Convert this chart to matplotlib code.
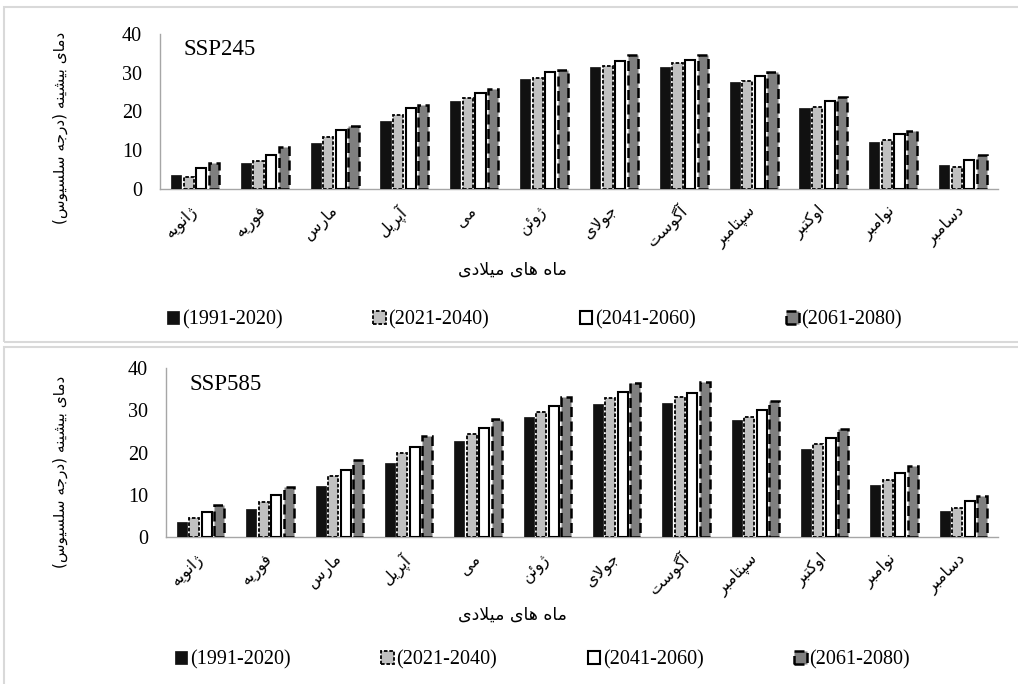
"""
Monthly maximum temperature, baseline vs. three future periods, for SSP245 and SSP585.
"""
import matplotlib
matplotlib.use("Agg")
from matplotlib import pyplot as plt
from matplotlib.patches import Rectangle
import numpy as np

months = ["ژانویه", "فوریه", "مارس", "آپریل", "می", "ژوئن",
          "جولای", "آگوست", "سپتامبر", "اوکتبر", "نوامبر", "دسامبر"]
periods = ["(1991-2020)", "(2021-2040)", "(2041-2060)", "(2061-2080)"]

baseline = [3.6, 6.6, 12.0, 17.6, 22.8, 28.5, 31.5, 31.6, 27.6, 20.8, 12.2, 6.1]

ssp245_2021 = [3.2, 7.1, 13.4, 19.1, 23.4, 28.7, 31.8, 32.4, 27.9, 21.1, 12.6, 5.7]
ssp245_2041 = [5.4, 8.9, 15.3, 20.8, 24.7, 30.2, 33.0, 33.3, 29.2, 22.6, 14.1, 7.5]
ssp245_2061 = [6.6, 10.9, 16.3, 21.6, 25.8, 30.6, 34.5, 34.7, 30.3, 23.7, 15.0, 8.8]

ssp585_2021 = [4.6, 8.4, 14.4, 20.0, 24.4, 29.7, 33.0, 33.1, 28.5, 22.1, 13.6, 6.9]
ssp585_2041 = [5.9, 9.9, 15.8, 21.3, 25.7, 31.0, 34.3, 34.2, 30.0, 23.5, 15.1, 8.6]
ssp585_2061 = [7.6, 11.8, 18.3, 24.0, 28.0, 33.1, 36.4, 36.8, 32.3, 25.5, 16.7, 9.8]

y_label = "دمای بیشینه (درجه سلسیوس)"
x_label = "ماه های میلادی"

# (isolated, final, initial, medial) presentation forms; right-joining letters have no initial/medial
FORMS = {
    "ا": ("\uFE8D", "\uFE8E", None, None),
    "آ": ("\uFE81", "\uFE82", None, None),
    "د": ("\uFEA9", "\uFEAA", None, None),
    "ر": ("\uFEAD", "\uFEAE", None, None),
    "ژ": ("\uFB8A", "\uFB8B", None, None),
    "و": ("\uFEED", "\uFEEE", None, None),
    "ب": ("\uFE8F", "\uFE90", "\uFE91", "\uFE92"),
    "پ": ("\uFB56", "\uFB57", "\uFB58", "\uFB59"),
    "ت": ("\uFE95", "\uFE96", "\uFE97", "\uFE98"),
    "ج": ("\uFE9D", "\uFE9E", "\uFE9F", "\uFEA0"),
    "س": ("\uFEB1", "\uFEB2", "\uFEB3", "\uFEB4"),
    "ش": ("\uFEB5", "\uFEB6", "\uFEB7", "\uFEB8"),
    "ف": ("\uFED1", "\uFED2", "\uFED3", "\uFED4"),
    "ک": ("\uFB8E", "\uFB8F", "\uFB90", "\uFB91"),
    "گ": ("\uFB92", "\uFB93", "\uFB94", "\uFB95"),
    "ل": ("\uFEDD", "\uFEDE", "\uFEDF", "\uFEE0"),
    "م": ("\uFEE1", "\uFEE2", "\uFEE3", "\uFEE4"),
    "ن": ("\uFEE5", "\uFEE6", "\uFEE7", "\uFEE8"),
    "ه": ("\uFEE9", "\uFEEA", "\uFEEB", "\uFEEC"),
    "ی": ("\uFBFC", "\uFBFD", "\uFBFE", "\uFBFF"),
    "ئ": ("\uFE89", "\uFE8A", "\uFE8B", "\uFE8C"),
}
LAM_ALEF = {"ا": ("\uFEFB", "\uFEFC"), "آ": ("\uFEF5", "\uFEF6")}
MIRROR = {"(": ")", ")": "("}


def dual(c: str) -> bool:
    return c in FORMS and FORMS[c][2] is not None


def farsi(text: str) -> str:
    """
    Joins persian letters into their contextual forms and flips the string to visual order,
    since matplotlib lays out text left to right without shaping.
    """
    out = []
    i = 0
    while i < len(text):
        c = text[i]
        prev = text[i - 1] if i > 0 else ""
        nxt = text[i + 1] if i + 1 < len(text) else ""
        joined_before = dual(prev)
        if c == "ل" and nxt in LAM_ALEF:
            out.append(LAM_ALEF[nxt][1 if joined_before else 0])
            i += 2
            continue
        if c not in FORMS:
            out.append(c)
            i += 1
            continue
        joined_after = dual(c) and nxt in FORMS
        iso, fin, ini, med = FORMS[c]
        if joined_before and joined_after:
            out.append(med)
        elif joined_before:
            out.append(fin)
        elif joined_after:
            out.append(ini)
        else:
            out.append(iso)
        i += 1
    return "".join(MIRROR.get(ch, ch) for ch in reversed(out))


W, H = 1018, 684
SERIF = "Liberation Serif"
FA = "DejaVu Sans"

bar_styles = [
    dict(facecolor="#111111", edgecolor="#111111", linewidth=0.5),
    dict(facecolor="#c0c0c0", edgecolor="black", linewidth=1.3, linestyle=(0, (2.0, 1.0))),
    dict(facecolor="white", edgecolor="black", linewidth=1.5),
    dict(facecolor="#7f7f7f", edgecolor="black", linewidth=1.8, linestyle=(0, (4.0, 1.8))),
]


def px_axes(fig, left, top, right, bottom):
    return fig.add_axes([left / W, 1 - bottom / H, (right - left) / W, (bottom - top) / H])


def plot_panel(fig, rect, series, title, ylab_y, xlab_y, legend_y, legend_x0):
    """
    Draws one scenario panel: grouped bars per month, axis labels and a one-row legend.
    """
    ax = px_axes(fig, *rect)
    x = np.arange(len(months))
    step, width = 0.18, 0.145
    for k, (vals, style) in enumerate(zip(series, bar_styles)):
        ax.bar(x + (k - 1.5) * step, vals, width, **style, zorder=3)

    ax.set_xlim(-0.5, len(months) - 0.5)
    ax.set_ylim(0, 40)
    ax.set_yticks([0, 10, 20, 30, 40])
    ax.set_xticks(x)
    ax.set_xticklabels([farsi(m) for m in months], family=FA, fontsize=11.5,
                       rotation=45, ha="right", va="center", rotation_mode="anchor")
    ax.tick_params(axis="x", length=0, pad=14)
    ax.tick_params(axis="y", length=0, pad=13, labelsize=14.5)
    for lbl in ax.get_yticklabels():
        lbl.set_family(SERIF)
    for side in ("top", "right"):
        ax.spines[side].set_visible(False)
    for side in ("left", "bottom"):
        ax.spines[side].set_color("#a6a6a6")
        ax.spines[side].set_linewidth(1.0)

    ax.text(0.028, 0.90, title, transform=ax.transAxes, family=SERIF, fontsize=16.5,
            ha="left", va="center")

    fig.text(60 / W, 1 - ylab_y / H, farsi(y_label), family=FA, fontsize=11,
             rotation=90, ha="center", va="center")
    fig.text(512 / W, 1 - xlab_y / H, farsi(x_label), family=FA, fontsize=12.5,
             ha="center", va="center")

    handles = [Rectangle((0, 0), 1, 1, **s) for s in bar_styles]
    fig.legend(handles, periods, loc="center left",
               bbox_to_anchor=(legend_x0 / W, 1 - legend_y / H), ncol=4,
               frameon=False, handlelength=0.6, handleheight=0.6,
               handletextpad=0.15, columnspacing=4.5,
               prop=dict(family=SERIF, size=14.5))
    return ax


fig = plt.figure(figsize=(W / 100, H / 100), dpi=100)

# light grey chart-area frames around each panel
for top, bottom in ((7, 342), (347, 700)):
    fig.patches.append(Rectangle((4 / W, 1 - bottom / H), 1.2, (bottom - top) / H,
                                 transform=fig.transFigure, fill=False,
                                 edgecolor="#d9d9d9", linewidth=1.5))

plot_panel(fig, (160, 34, 998, 189),
           [baseline, ssp245_2021, ssp245_2041, ssp245_2061],
           "SSP245", 128, 270, 320, 149)
plot_panel(fig, (166, 368, 998, 537),
           [baseline, ssp585_2021, ssp585_2041, ssp585_2061],
           "SSP585", 472, 615, 660, 157)

fig.savefig("out.png", dpi=100)
